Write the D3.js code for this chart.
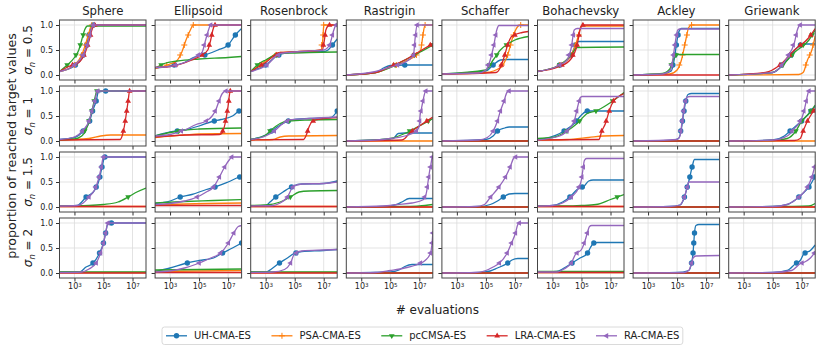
<!DOCTYPE html>
<html lang="en">
<head>
<meta charset="UTF-8">
<title>ECDF grid</title>
<style>
  body { margin: 0; background: #fff; }
  svg { display: block; font-family: "DejaVu Sans", sans-serif; }
</style>
</head>
<body>
<svg id="chart" width="822" height="351"></svg>
<script src="https://cdn.jsdelivr.net/npm/d3@7"></script>
<script>
// --- data -------------------------------------------------------------
const functions = ["Sphere", "Ellipsoid", "Rosenbrock", "Rastrigin", "Schaffer", "Bohachevsky", "Ackley", "Griewank"];
const algorithms = ["UH-CMA-ES", "PSA-CMA-ES", "pcCMSA-ES", "LRA-CMA-ES", "RA-CMA-ES"];
const colors = ["#1f77b4", "#ff7f0e", "#2ca02c", "#d62728", "#9467bd"];
const markerKinds = ["circle", "plus", "triDown", "triUp", "triLeft"];
const noiseLevels = ["0.5", "1", "1.5", "2"];
const xTicks = [1e3, 1e5, 1e7];
const yTicks = [0, 0.5, 1];
const markerLevels = [0.2, 0.4, 0.6, 0.8, 1.0];

// each curve: [log10(evaluations), proportion]; order per panel = algorithms
const curves05 = [
  [ // Sphere
    [[1.97,0.07],[3,0.18],[3.5,0.33],[3.8,0.55],[4.0,0.8],[4.15,0.95],[4.3,1.0],[7.93,1.0]],
    [[1.97,0.07],[3,0.2],[3.5,0.4],[3.8,0.65],[4.0,0.85],[4.2,1.0],[7.93,1.0]],
    [[1.97,0.07],[2.5,0.2],[3.0,0.35],[3.3,0.5],[3.5,0.7],[3.7,0.9],[3.9,0.98],[7.93,0.98]],
    [[1.97,0.07],[2.6,0.17],[3.3,0.25],[3.7,0.42],[4.0,0.68],[4.2,0.9],[4.4,1.0],[7.93,1.0]],
    [[1.97,0.07],[3,0.2],[3.6,0.4],[3.9,0.62],[4.1,0.85],[4.3,1.0],[7.93,1.0]]
  ],
  [ // Ellipsoid
    [[1.97,0.14],[3,0.18],[4,0.25],[4.6,0.35],[5.4,0.4],[6.3,0.5],[7.0,0.6],[7.5,0.8],[7.93,0.93]],
    [[1.97,0.13],[3.0,0.22],[3.45,0.28],[3.8,0.45],[4.1,0.7],[4.4,0.9],[4.6,1.0],[7.93,1.0]],
    [[1.97,0.14],[2.6,0.23],[3.5,0.28],[5,0.32],[7,0.35],[7.93,0.37]],
    [[1.97,0.15],[3,0.17],[4.5,0.3],[5.2,0.4],[5.6,0.5],[5.8,0.7],[5.95,0.9],[6.1,1.0],[7.93,1.0]],
    [[1.97,0.15],[3,0.17],[4,0.25],[4.7,0.35],[5.2,0.45],[5.45,0.7],[5.65,0.9],[5.8,1.0],[7.93,1.0]]
  ],
  [ // Rosenbrock
    [[1.97,0.07],[3,0.2],[4,0.42],[5,0.46],[7,0.47],[7.3,0.5],[7.6,0.6],[7.93,0.72]],
    [[1.97,0.07],[3,0.28],[4,0.45],[6,0.48],[6.8,0.5],[6.95,0.75],[7.0,1.0],[7.93,1.0]],
    [[1.97,0.07],[2.5,0.22],[3,0.3],[4,0.43],[5,0.44],[6,0.45],[7.93,0.46]],
    [[1.97,0.07],[3,0.25],[4,0.45],[6,0.48],[6.9,0.5],[7.05,0.7],[7.15,0.9],[7.4,1.0],[7.93,1.0]],
    [[1.97,0.07],[3,0.18],[4,0.43],[6,0.48],[7,0.5],[7.4,0.6],[7.7,0.9],[7.85,1.0],[7.93,1.0]]
  ],
  [ // Rastrigin
    [[1.97,0],[4,0.05],[4.6,0.15],[5,0.19],[6,0.2],[7.93,0.2]],
    [[1.97,0],[4,0.05],[5,0.15],[6,0.27],[6.8,0.4],[7.1,0.5],[7.25,0.8],[7.4,1.0],[7.93,1.0]],
    [[1.97,0],[4,0.05],[5,0.15],[6,0.3],[7,0.45],[7.93,0.6]],
    [[1.97,0],[4,0.05],[5,0.17],[6,0.3],[7,0.47],[7.93,0.63]],
    [[1.97,0],[4,0.07],[4.6,0.12],[5.5,0.2],[6.4,0.33],[6.6,0.4],[6.7,0.7],[6.85,1.0],[7.93,1.0]]
  ],
  [ // Schaffer
    [[1.97,0.02],[5,0.08],[5.5,0.2],[6,0.3],[6.5,0.31],[7.93,0.31]],
    [[1.97,0.02],[5,0.05],[6,0.15],[6.5,0.4],[6.9,0.8],[7.2,0.97],[7.4,1.0],[7.93,1.0]],
    [[1.97,0.02],[5,0.1],[5.5,0.3],[6,0.5],[6.5,0.62],[7,0.7],[7.93,0.77]],
    [[1.97,0.02],[5.7,0.05],[6.0,0.15],[6.3,0.4],[6.5,0.6],[6.8,0.78],[7.5,0.85],[7.93,0.87]],
    [[1.97,0.02],[4.5,0.04],[5,0.1],[5.3,0.3],[5.55,0.6],[5.75,0.9],[5.9,0.99],[7.93,0.99]]
  ],
  [ // Bohachevsky
    [[1.97,0.07],[3.5,0.2],[4.3,0.4],[4.6,0.6],[4.8,0.67],[7.93,0.67]],
    [[1.97,0.07],[3.5,0.2],[4.3,0.4],[4.7,0.7],[5.0,0.98],[7.93,0.98]],
    [[1.97,0.07],[3.5,0.2],[4.3,0.4],[4.7,0.55],[7.93,0.56]],
    [[1.97,0.07],[3.5,0.17],[4.3,0.33],[4.7,0.6],[4.9,0.9],[5.1,1.0],[7.93,1.0]],
    [[1.97,0.07],[3.5,0.2],[4.0,0.3],[4.3,0.55],[4.5,0.9],[4.7,0.93],[7.93,0.93]]
  ],
  [ // Ackley
    [[1.97,0],[4,0.02],[4.6,0.08],[4.8,0.3],[4.95,0.6],[5.1,0.85],[5.3,0.93],[7.93,0.93]],
    [[1.97,0],[4.5,0.02],[5.0,0.1],[5.3,0.3],[5.6,0.7],[5.8,0.95],[6.0,1.0],[7.93,1.0]],
    [[1.97,0],[4,0.03],[4.5,0.12],[4.8,0.35],[4.95,0.41],[7.93,0.41]],
    [[1.97,0],[7.93,0]],
    [[1.97,0],[4,0.02],[4.55,0.1],[4.75,0.4],[4.9,0.7],[5.05,0.9],[5.2,0.92],[7.93,0.92]]
  ],
  [ // Griewank
    [[1.97,0],[5,0.05],[6,0.3],[6.7,0.55],[7,0.62],[7.93,0.62]],
    [[1.97,0],[6.8,0.01],[7.1,0.05],[7.4,0.3],[7.7,0.5],[7.93,0.78]],
    [[1.97,0],[5,0.05],[5.7,0.2],[6.5,0.45],[7.5,0.7],[7.93,0.9]],
    [[1.97,0],[4.5,0.05],[5.5,0.2],[6.5,0.5],[7.5,0.75],[7.93,0.93]],
    [[1.97,0],[5,0.05],[5.5,0.15],[6,0.35],[6.5,0.65],[6.7,0.9],[6.9,1.0],[7.93,1.0]]
  ]
];

const curves1 = [
  [ // Sphere
    [[1.97,0.03],[3,0.07],[3.6,0.2],[4.05,0.4],[4.25,0.6],[4.5,0.8],[4.65,0.98],[5.15,1.0],[7.93,1.0]],
    [[1.97,0.02],[4,0.05],[4.8,0.1],[5.5,0.12],[7.93,0.12]],
    [[1.97,0.02],[3,0.04],[3.5,0.1],[3.9,0.3],[4.2,0.6],[4.4,0.85],[4.55,1.0],[7.93,1.0]],
    [[1.97,0.02],[6.15,0.03],[6.35,0.17],[6.5,0.4],[6.6,0.6],[6.7,0.8],[6.8,1.0],[7.93,1.0]],
    [[1.97,0.03],[3,0.08],[3.55,0.2],[4.0,0.4],[4.2,0.6],[4.4,0.8],[4.6,1.0],[7.93,1.0]]
  ],
  [ // Ellipsoid
    [[1.97,0.1],[3,0.18],[4,0.22],[5,0.3],[5.9,0.39],[6.5,0.43],[7.3,0.5],[7.75,0.6],[7.93,0.62]],
    [[1.97,0.07],[3,0.1],[4,0.12],[5,0.14],[7.93,0.15]],
    [[1.97,0.1],[3,0.17],[4,0.22],[5,0.24],[7.93,0.26]],
    [[1.97,0.08],[4,0.12],[6.4,0.13],[6.6,0.17],[6.85,0.43],[7.0,0.7],[7.15,1.0],[7.93,1.0]],
    [[1.97,0.1],[3,0.13],[4,0.22],[4.8,0.33],[5.5,0.4],[5.9,0.5],[6.15,0.62],[6.4,0.82],[6.6,0.95],[6.85,1.0],[7.93,1.0]]
  ],
  [ // Rosenbrock
    [[1.97,0.03],[3,0.12],[4,0.32],[4.7,0.42],[6,0.45],[7.5,0.47],[7.93,0.6]],
    [[1.97,0.02],[3.5,0.03],[4,0.08],[4.6,0.1],[7.93,0.11]],
    [[1.97,0.03],[3,0.12],[3.3,0.2],[4,0.35],[4.6,0.4],[6,0.42],[7.93,0.43]],
    [[1.97,0.02],[5.6,0.03],[5.8,0.12],[6.0,0.29],[6.3,0.41],[7,0.45],[7.93,0.47]],
    [[1.97,0.03],[3,0.1],[3.6,0.2],[4.1,0.33],[4.6,0.42],[6,0.45],[7.93,0.48]]
  ],
  [ // Rastrigin
    [[1.97,0],[4,0.02],[5.2,0.05],[5.55,0.15],[6,0.16],[7.93,0.16]],
    [[1.97,0],[7.93,0]],
    [[1.97,0],[4,0.02],[5,0.05],[6,0.15],[7,0.3],[7.93,0.45]],
    [[1.97,0],[5.8,0.02],[6.0,0.05],[6.3,0.15],[6.6,0.22],[7,0.3],[7.93,0.48]],
    [[1.97,0],[4,0.02],[5,0.05],[6,0.1],[6.8,0.2],[7.0,0.3],[7.05,0.5],[7.15,0.65],[7.25,0.8],[7.45,1.0],[7.93,1.0]]
  ],
  [ // Schaffer
    [[1.97,0],[5,0.03],[5.5,0.1],[5.8,0.2],[6.3,0.26],[6.6,0.28],[7.93,0.28]],
    [[1.97,0],[7.93,0]],
    [[1.97,0],[7.93,0]],
    [[1.97,0],[7.93,0]],
    [[1.97,0],[4.5,0.02],[5.1,0.07],[5.5,0.2],[5.8,0.4],[6.0,0.6],[6.25,0.8],[6.45,0.97],[6.6,1.0],[7.93,1.0]]
  ],
  [ // Bohachevsky
    [[1.97,0.02],[3.5,0.15],[3.8,0.2],[4.5,0.35],[5.0,0.52],[5.4,0.6],[7.93,0.6]],
    [[1.97,0.02],[4,0.03],[5.5,0.07],[6.5,0.1],[7.93,0.11]],
    [[1.97,0.05],[3,0.07],[4,0.2],[4.7,0.35],[5.4,0.55],[6.0,0.6],[6.9,0.75],[7.4,0.85],[7.93,0.97]],
    [[1.97,0.02],[6.2,0.03],[6.4,0.2],[6.65,0.35],[6.9,0.59],[7.2,0.8],[7.5,0.88],[7.93,0.95]],
    [[1.97,0.02],[3.5,0.1],[4,0.2],[4.5,0.4],[4.75,0.7],[4.9,0.86],[5.05,0.89],[7.93,0.89]]
  ],
  [ // Ackley
    [[1.97,0],[4.5,0.01],[5.1,0.05],[5.3,0.25],[5.45,0.55],[5.6,0.8],[5.75,0.93],[6.0,0.95],[7.93,0.95]],
    [[1.97,0],[7.93,0]],
    [[1.97,0],[7.93,0]],
    [[1.97,0],[7.93,0]],
    [[1.97,0],[5,0.03],[5.2,0.1],[5.35,0.4],[5.5,0.7],[5.65,0.87],[5.9,0.89],[7.93,0.89]]
  ],
  [ // Griewank
    [[1.97,0],[5,0.02],[5.8,0.1],[6.2,0.2],[6.6,0.3],[7,0.4],[7.5,0.55],[7.93,0.7]],
    [[1.97,0],[7.93,0]],
    [[1.97,0],[5,0.01],[6,0.05],[6.6,0.2],[7,0.4],[7.5,0.55],[7.93,0.72]],
    [[1.97,0],[6.5,0.01],[6.9,0.05],[7.1,0.2],[7.4,0.4],[7.7,0.55],[7.93,0.65]],
    [[1.97,0],[5,0.02],[6,0.1],[6.5,0.25],[7.0,0.45],[7.2,0.65],[7.35,0.85],[7.5,1.0],[7.93,1.0]]
  ]
];

const curves15 = [
  [ // Sphere
    [[1.97,0.02],[3.2,0.03],[3.5,0.1],[3.8,0.2],[4.3,0.3],[4.6,0.45],[4.75,0.6],[4.9,0.8],[5.1,1.0],[7.93,1.0]],
    [[1.97,0.01],[7.93,0.01]],
    [[1.97,0.02],[4,0.03],[5,0.05],[6,0.1],[6.7,0.2],[7.3,0.3],[7.93,0.38]],
    [[1.97,0.01],[7.93,0.01]],
    [[1.97,0.02],[3.2,0.03],[3.6,0.08],[4.0,0.2],[4.4,0.35],[4.65,0.55],[4.85,0.8],[5.0,1.0],[7.93,1.0]]
  ],
  [ // Ellipsoid
    [[1.97,0.07],[3,0.12],[3.7,0.2],[4.5,0.25],[5.5,0.35],[6.1,0.4],[7,0.5],[7.8,0.6],[7.93,0.61]],
    [[1.97,0.04],[4,0.06],[7.93,0.08]],
    [[1.97,0.08],[4,0.11],[6,0.13],[7.93,0.15]],
    [[1.97,0.03],[7.93,0.03]],
    [[1.97,0.05],[3,0.07],[4,0.12],[4.8,0.19],[5.5,0.3],[6.0,0.4],[6.4,0.6],[6.8,0.82],[7.1,0.95],[7.25,1.0],[7.93,1.0]]
  ],
  [ // Rosenbrock
    [[1.97,0.02],[3.0,0.03],[3.3,0.1],[3.65,0.19],[4.2,0.3],[4.9,0.42],[5.5,0.46],[7,0.47],[7.93,0.52]],
    [[1.97,0.01],[7.93,0.01]],
    [[1.97,0.03],[3,0.04],[4,0.1],[4.7,0.2],[5.3,0.3],[6,0.32],[7.93,0.33]],
    [[1.97,0.01],[7.93,0.01]],
    [[1.97,0.02],[3.5,0.03],[4.0,0.08],[4.5,0.2],[4.9,0.41],[5.5,0.46],[7,0.47],[7.93,0.5]]
  ],
  [ // Rastrigin
    [[1.97,0],[4.5,0.01],[5.3,0.04],[5.8,0.1],[6.3,0.17],[7.93,0.17]],
    [[1.97,0],[7.93,0]],
    [[1.97,0],[6,0.01],[7,0.02],[7.93,0.05]],
    [[1.97,0],[7.93,0]],
    [[1.97,0],[4.5,0.02],[5.5,0.05],[6.5,0.08],[7.3,0.15],[7.5,0.3],[7.6,0.5],[7.7,0.7],[7.8,0.85],[7.9,1.0],[7.93,1.0]]
  ],
  [ // Schaffer
    [[1.97,0],[4.5,0.01],[5.3,0.05],[5.8,0.12],[6.2,0.2],[6.6,0.26],[7,0.27],[7.93,0.27]],
    [[1.97,0],[7.93,0]],
    [[1.97,0],[7.93,0]],
    [[1.97,0],[7.93,0]],
    [[1.97,0],[4.3,0.01],[4.9,0.05],[5.3,0.19],[5.9,0.4],[6.35,0.6],[6.7,0.82],[6.9,0.97],[7.05,1.0],[7.93,1.0]]
  ],
  [ // Bohachevsky
    [[1.97,0.02],[3,0.03],[3.7,0.1],[4.2,0.2],[4.7,0.35],[5.2,0.42],[5.5,0.52],[5.8,0.54],[7.93,0.54]],
    [[1.97,0.01],[7.93,0.01]],
    [[1.97,0.02],[4,0.02],[5,0.03],[6,0.05],[7,0.15],[7.93,0.25]],
    [[1.97,0.01],[7.93,0.01]],
    [[1.97,0.02],[3,0.03],[3.7,0.08],[4.3,0.2],[4.8,0.38],[5.0,0.55],[5.1,0.75],[5.2,0.93],[5.35,0.97],[7.93,0.97]]
  ],
  [ // Ackley
    [[1.97,0],[4.5,0.01],[5.2,0.04],[5.5,0.19],[5.7,0.4],[5.88,0.6],[6.05,0.82],[6.2,0.95],[7.93,0.95]],
    [[1.97,0],[7.93,0]],
    [[1.97,0],[7.93,0]],
    [[1.97,0],[7.93,0]],
    [[1.97,0],[4.5,0.01],[5.2,0.04],[5.5,0.2],[5.7,0.4],[5.8,0.5],[7.93,0.5]]
  ],
  [ // Griewank
    [[1.97,0],[5,0.01],[6,0.05],[6.6,0.15],[7,0.25],[7.5,0.4],[7.93,0.62]],
    [[1.97,0],[7.93,0]],
    [[1.97,0],[6,0.01],[7.5,0.02],[7.93,0.07]],
    [[1.97,0],[7.93,0]],
    [[1.97,0],[5,0.01],[6,0.05],[6.6,0.15],[7,0.25],[7.4,0.4],[7.7,0.6],[7.93,0.85]]
  ]
];

const curves2 = [
  [ // Sphere
    [[1.97,0.02],[3.35,0.02],[3.8,0.12],[4.25,0.19],[4.7,0.38],[5.0,0.6],[5.15,0.8],[5.3,0.98],[5.55,1.0],[7.93,1.0]],
    [[1.97,0.01],[7.93,0.01]],
    [[1.97,0.02],[7.93,0.02]],
    [[1.97,0],[7.93,0]],
    [[1.97,0.01],[3.5,0.02],[4.0,0.08],[4.5,0.2],[4.8,0.4],[5.0,0.6],[5.15,0.8],[5.3,1.0],[7.93,1.0]]
  ],
  [ // Ellipsoid
    [[1.97,0.03],[3,0.1],[4.03,0.19],[5,0.25],[6,0.3],[6.55,0.39],[7.3,0.5],[7.87,0.59],[7.93,0.6]],
    [[1.97,0.03],[7.93,0.05]],
    [[1.97,0.06],[7.93,0.08]],
    [[1.97,0.01],[7.93,0.01]],
    [[1.97,0.02],[3,0.04],[4,0.1],[4.84,0.18],[5.8,0.3],[6.45,0.39],[7.0,0.59],[7.37,0.79],[7.7,0.93],[7.93,0.95]]
  ],
  [ // Rosenbrock
    [[1.97,0.02],[3.05,0.02],[3.4,0.08],[3.9,0.19],[4.5,0.3],[4.95,0.39],[5.5,0.43],[7,0.45],[7.93,0.47]],
    [[1.97,0.01],[7.93,0.01]],
    [[1.97,0.02],[7.93,0.02]],
    [[1.97,0],[7.93,0]],
    [[1.97,0.01],[3.5,0.02],[4.3,0.07],[4.7,0.19],[5.0,0.39],[5.5,0.44],[7,0.46],[7.93,0.47]]
  ],
  [ // Rastrigin
    [[1.97,0],[5,0.02],[5.6,0.06],[6,0.13],[6.5,0.17],[7.93,0.17]],
    [[1.97,0],[7.93,0]],
    [[1.97,0],[7.93,0]],
    [[1.97,0],[7.93,0]],
    [[1.97,0],[4,0.01],[5,0.05],[6,0.1],[6.95,0.18],[7.4,0.25],[7.76,0.39],[7.88,0.6],[7.93,0.8]]
  ],
  [ // Schaffer
    [[1.97,0],[4.5,0.01],[5.3,0.04],[5.8,0.1],[6.46,0.19],[6.8,0.26],[7.2,0.29],[7.93,0.29]],
    [[1.97,0],[7.93,0]],
    [[1.97,0],[7.93,0]],
    [[1.97,0],[7.93,0]],
    [[1.97,0],[4.3,0.01],[5.0,0.05],[5.5,0.12],[5.9,0.19],[6.45,0.39],[6.75,0.59],[7.03,0.79],[7.2,0.97],[7.3,1.0],[7.93,1.0]]
  ],
  [ // Bohachevsky
    [[1.97,0.02],[3.3,0.03],[3.8,0.1],[4.35,0.2],[4.9,0.3],[5.4,0.39],[5.6,0.5],[5.85,0.6],[6.1,0.61],[7.93,0.61]],
    [[1.97,0.01],[7.93,0.01]],
    [[1.97,0.03],[7.93,0.03]],
    [[1.97,0.01],[7.93,0.01]],
    [[1.97,0.02],[3.3,0.02],[3.8,0.08],[4.3,0.2],[4.6,0.38],[5.0,0.47],[5.25,0.65],[5.4,0.8],[5.55,0.93],[5.7,0.95],[7.93,0.95]]
  ],
  [ // Ackley
    [[1.97,0],[5,0.01],[5.8,0.05],[6.0,0.2],[6.1,0.4],[6.15,0.6],[6.2,0.8],[6.3,0.95],[6.5,0.97],[7.93,0.97]],
    [[1.97,0],[7.93,0]],
    [[1.97,0],[7.93,0]],
    [[1.97,0],[7.93,0]],
    [[1.97,0],[5.5,0.01],[5.8,0.05],[6.0,0.2],[6.1,0.3],[6.3,0.34],[7.93,0.35]]
  ],
  [ // Griewank
    [[1.97,0],[5,0.01],[6,0.05],[6.59,0.19],[6.9,0.25],[7.16,0.39],[7.6,0.45],[7.93,0.56]],
    [[1.97,0],[7.93,0]],
    [[1.97,0],[7.93,0]],
    [[1.97,0],[7.93,0]],
    [[1.97,0],[5,0.01],[6.3,0.05],[6.93,0.19],[7.2,0.22],[7.6,0.3],[7.93,0.42]]
  ]
];

const curveRows = [curves05, curves1, curves15, curves2];

// --- layout ------------------------------------------------------------
const svg = d3.select("#chart");
const panelW = 86.5, panelH = 60;
const left0 = 59.5, top0 = 20, colStep = 95.6, rowStep = 66;
const textColor = "#222", axisColor = "#333";

const x = d3.scaleLog().domain([Math.pow(10, 1.97), Math.pow(10, 7.93)]).range([0, panelW]);
const y = d3.scaleLinear().domain([-0.1, 1.1]).range([panelH, 0]);

const line = d3.line()
  .x(d => x(Math.pow(10, d[0])))
  .y(d => y(d[1]))
  .curve(d3.curveMonotoneX);

function markerPath(kind) {
  const s = 3.3;
  if (kind === "triDown") return `M0,${s}L${-0.87*s},${-s/2}L${0.87*s},${-s/2}Z`;
  if (kind === "triUp") return `M0,${-s}L${-0.87*s},${s/2}L${0.87*s},${s/2}Z`;
  if (kind === "triLeft") return `M${-s},0L${s/2},${-0.87*s}L${s/2},${0.87*s}Z`;
  return "M-3,0H3M0,-3V3";
}

function drawMarker(g, kind, color, px, py) {
  if (kind === "circle") {
    g.append("circle").attr("cx", px).attr("cy", py).attr("r", 2.7).attr("fill", color);
  } else if (kind === "plus") {
    g.append("path").attr("transform", `translate(${px},${py})`).attr("d", markerPath(kind))
      .attr("stroke", color).attr("stroke-width", 1).attr("fill", "none");
  } else {
    g.append("path").attr("transform", `translate(${px},${py})`).attr("d", markerPath(kind)).attr("fill", color);
  }
}

// first point where a curve reaches each marker level
function markerPoints(pts) {
  const out = [];
  markerLevels.forEach(L => {
    for (let i = 0; i < pts.length; i++) {
      if (pts[i][1] >= L - 1e-9) {
        if (i === 0) { out.push(pts[0]); break; }
        const a = pts[i - 1], b = pts[i];
        const t = (L - a[1]) / (b[1] - a[1]);
        out.push([a[0] + t * (b[0] - a[0]), L]);
        break;
      }
    }
  });
  return out;
}

function supLabel(sel) {
  sel.each(function(d) {
    const t = d3.select(this);
    t.text(null);
    t.append("tspan").text("10");
    t.append("tspan").attr("dy", "-0.45em").attr("font-size", "0.7em").text(Math.round(Math.log10(d)));
  });
}

curveRows.forEach((rowData, r) => {
  functions.forEach((fname, c) => {
    const gx = left0 + c * colStep, gy = top0 + r * rowStep;
    const g = svg.append("g").attr("transform", `translate(${gx},${gy})`);
    const clipId = `clip-${r}-${c}`;
    g.append("clipPath").attr("id", clipId)
      .append("rect").attr("width", panelW).attr("height", panelH);

    // grid
    g.selectAll(".gx").data(xTicks).join("line")
      .attr("x1", d => x(d)).attr("x2", d => x(d)).attr("y1", 0).attr("y2", panelH)
      .attr("stroke", "#dcdcdc").attr("stroke-width", 0.8);
    g.selectAll(".gy").data(yTicks).join("line")
      .attr("x1", 0).attr("x2", panelW).attr("y1", d => y(d)).attr("y2", d => y(d))
      .attr("stroke", "#dcdcdc").attr("stroke-width", 0.8);

    // axes
    const xa = g.append("g").attr("transform", `translate(0,${panelH})`)
      .call(d3.axisBottom(x).tickValues(xTicks).tickSize(3.5).tickPadding(2).tickFormat(() => ""));
    const ya = g.append("g")
      .call(d3.axisLeft(y).tickValues(yTicks).tickSize(3.5).tickPadding(3)
        .tickFormat(c === 0 ? d3.format(".1f") : () => ""));
    [xa, ya].forEach(a => {
      a.select(".domain").remove();
      a.selectAll(".tick line").attr("stroke", axisColor);
      a.selectAll("text").attr("fill", textColor).attr("font-size", 8)
        .attr("font-family", "DejaVu Sans, sans-serif");
    });
    if (r === curveRows.length - 1) supLabel(xa.selectAll(".tick text"));

    // curves
    const cg = g.append("g").attr("clip-path", `url(#${clipId})`);
    rowData[c].forEach((pts, k) => {
      cg.append("path").attr("d", line(pts)).attr("fill", "none")
        .attr("stroke", colors[k]).attr("stroke-width", 1.3);
      markerPoints(pts).forEach(p => drawMarker(cg, markerKinds[k], colors[k], x(Math.pow(10, p[0])), y(p[1])));
    });

    // frame
    g.append("rect").attr("width", panelW).attr("height", panelH)
      .attr("fill", "none").attr("stroke", "#444").attr("stroke-width", 1);

    if (r === 0) {
      svg.append("text").attr("x", gx + panelW / 2).attr("y", 14.5)
        .attr("text-anchor", "middle").attr("font-size", 11.7).attr("fill", textColor).text(fname);
    }
  });

  // row label: sigma_n = level
  const cy = top0 + r * rowStep + panelH / 2;
  const lab = svg.append("text").attr("transform", `translate(32,${cy}) rotate(-90)`)
    .attr("text-anchor", "middle").attr("font-size", 12).attr("fill", textColor);
  lab.append("tspan").attr("font-style", "italic").text("σ");
  lab.append("tspan").attr("font-style", "italic").attr("font-size", "0.7em").attr("dy", "0.35em").text("n");
  lab.append("tspan").attr("dy", "-0.25em").text(" = " + noiseLevels[r]);
});

// axis titles
svg.append("text").attr("transform", "translate(16,146) rotate(-90)")
  .attr("text-anchor", "middle").attr("font-size", 12.7).attr("fill", textColor)
  .text("proportion of reached target values");
svg.append("text").attr("x", left0 + ((functions.length - 1) * colStep + panelW) / 2).attr("y", 314)
  .attr("text-anchor", "middle").attr("font-size", 12).attr("fill", textColor).text("# evaluations");

// legend
const legend = svg.append("g");
const box = legend.append("rect").attr("x", 162).attr("y", 327).attr("height", 17.5).attr("rx", 2.5)
  .attr("fill", "#fff").attr("stroke", "#d0d0d0").attr("stroke-width", 0.8);
let lx = 166;
const ly = 335.8;
algorithms.forEach((name, k) => {
  legend.append("line").attr("x1", lx).attr("x2", lx + 21).attr("y1", ly).attr("y2", ly)
    .attr("stroke", colors[k]).attr("stroke-width", 1.3);
  drawMarker(legend, markerKinds[k], colors[k], lx + 10.5, ly);
  const t = legend.append("text").attr("x", lx + 28).attr("y", ly + 3.6)
    .attr("font-size", 10).attr("fill", textColor).text(name);
  lx += 28 + t.node().getComputedTextLength() + 20.5;
});
box.attr("width", lx - 20.5 + 3.5 - 162);
</script>
</body>
</html>
